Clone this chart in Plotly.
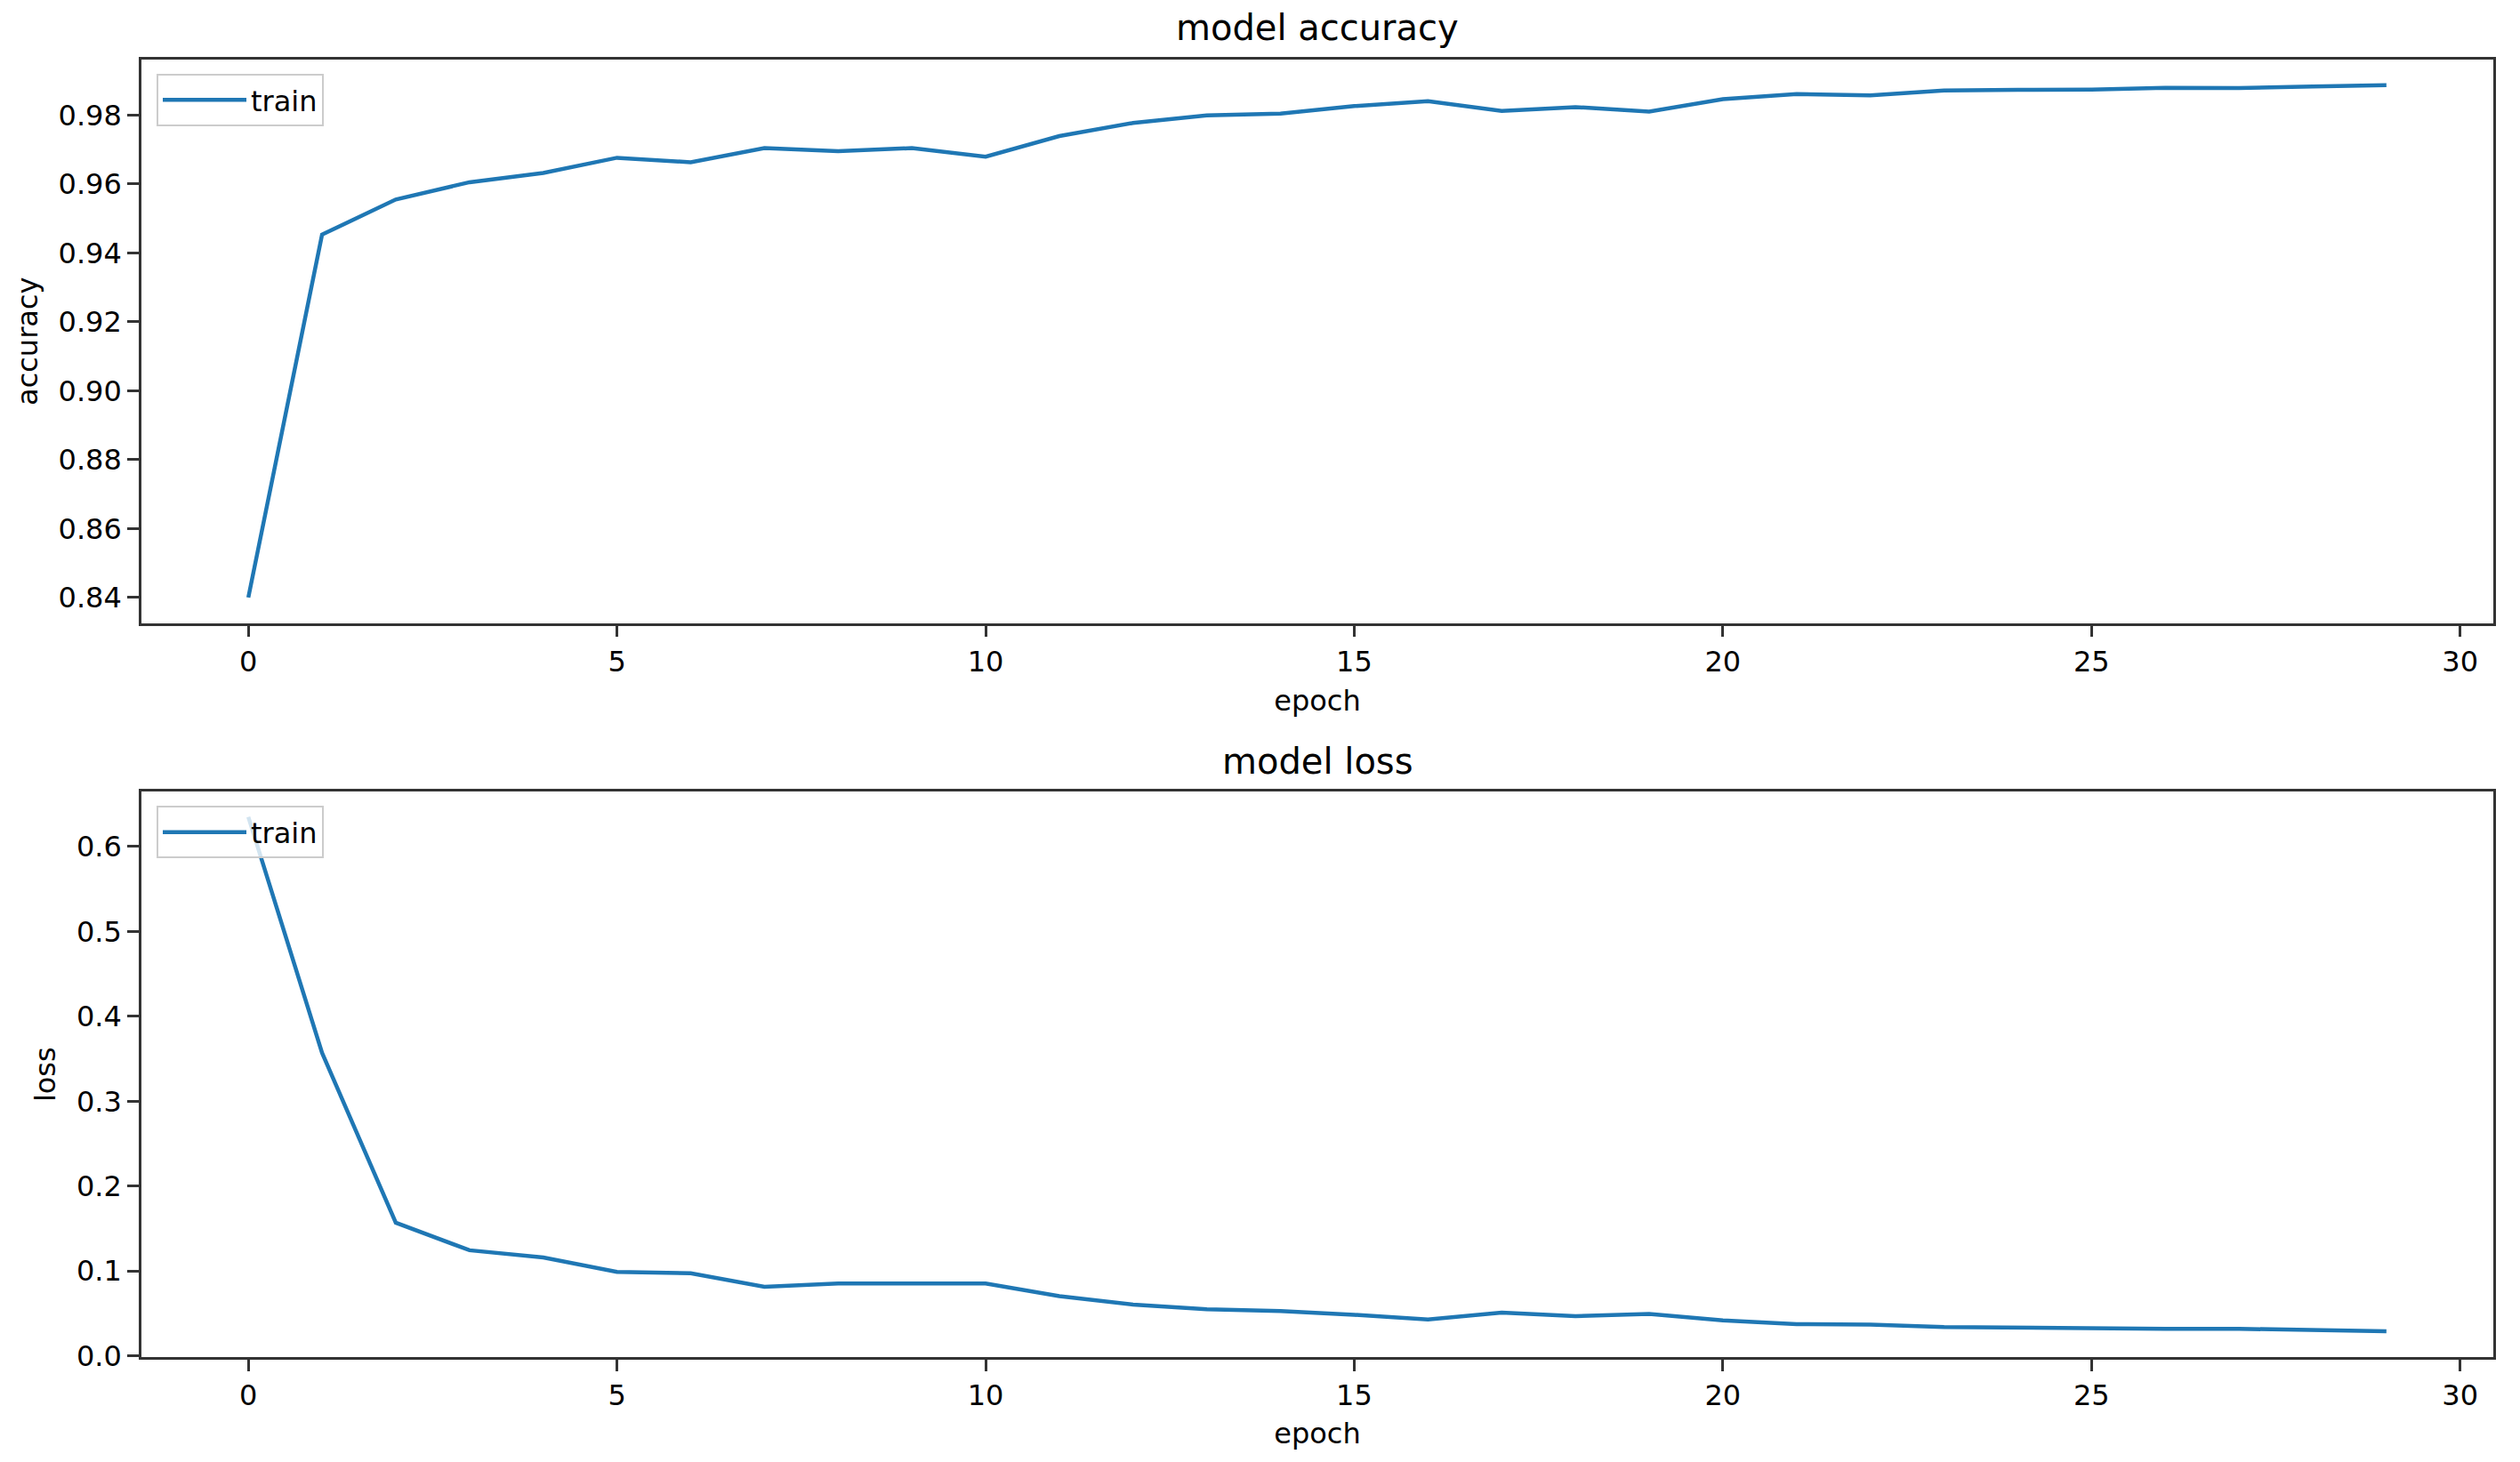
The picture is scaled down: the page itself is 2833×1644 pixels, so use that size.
import plotly.graph_objects as go

epochs = list(range(30))
accuracy = [0.8400, 0.9453, 0.9555, 0.9605, 0.9632, 0.9676, 0.9663, 0.9704, 0.9695, 0.9704,
            0.9679, 0.9739, 0.9777, 0.9799, 0.9804, 0.9826, 0.9840, 0.9812, 0.9823, 0.9810,
            0.9846, 0.9861, 0.9857, 0.9871, 0.9873, 0.9874, 0.9879, 0.9878, 0.9883, 0.9887]
loss = [0.635, 0.357, 0.157, 0.1245, 0.116, 0.099, 0.0975, 0.0815, 0.0854, 0.0854,
        0.0854, 0.0705, 0.0606, 0.055, 0.053, 0.0485, 0.043, 0.051, 0.0468, 0.0496,
        0.0419, 0.0375, 0.037, 0.034, 0.033, 0.033, 0.032, 0.032, 0.030, 0.029]

x_ticks = [0, 5, 10, 15, 20, 25, 30]
acc_ticks = [0.84, 0.86, 0.88, 0.90, 0.92, 0.94, 0.96, 0.98]
loss_ticks = [0.0, 0.1, 0.2, 0.3, 0.4, 0.5, 0.6]

W, H = 2833, 1644
VS = 0.9897  # observed vertical scale of the captured page
BLUE = "#1f77b4"
FONT = "DejaVu Sans"
TXT = "#000000"
SPINE = "#333333"

def px_x(v):
    return v / W

def px_y(v):
    return 1 - (v / VS) / H

fig = go.Figure()
fig.add_trace(go.Scatter(x=epochs, y=accuracy, mode="lines", name="train",
                         line=dict(color=BLUE, width=4.5), xaxis="x", yaxis="y",
                         legend="legend", showlegend=True))
fig.add_trace(go.Scatter(x=epochs, y=loss, mode="lines", name="train",
                         line=dict(color=BLUE, width=4.5), xaxis="x2", yaxis="y2",
                         legend="legend2", showlegend=True))

x_dom = [px_x(159), px_x(2803)]
axis_common = dict(showline=True, linewidth=2.6, linecolor=SPINE, mirror=True,
                   ticks="outside", ticklen=13, tickwidth=2.6, tickcolor=SPINE,
                   showgrid=False, zeroline=False,
                   tickfont=dict(family=FONT, size=32, color=TXT))
xr = [-1.45, 30.45]
title_font = dict(family=FONT, size=32, color=TXT)
legend_common = dict(xanchor="left", yanchor="top", bgcolor="rgba(255,255,255,0.8)",
                     bordercolor="#cccccc", borderwidth=2, itemwidth=94,
                     font=dict(family=FONT, size=32, color=TXT))

fig.update_layout(
    width=W, height=H,
    margin=dict(l=0, r=0, t=0, b=0),
    showlegend=True,
    paper_bgcolor="white", plot_bgcolor="white",
    font=dict(family=FONT, size=32, color=TXT),
    xaxis=dict(domain=x_dom, range=xr, tickvals=x_ticks, anchor="y",
               title=dict(text="epoch", font=title_font, standoff=15), **axis_common),
    yaxis=dict(domain=[px_y(701), px_y(67)], range=[0.8326, 0.9961], tickvals=acc_ticks,
               tickformat=".2f", anchor="x",
               title=dict(text="accuracy", font=title_font, standoff=14), **axis_common),
    xaxis2=dict(domain=x_dom, range=xr, tickvals=x_ticks, anchor="y2",
                title=dict(text="epoch", font=title_font, standoff=14), **axis_common),
    yaxis2=dict(domain=[px_y(1527), px_y(891)], range=[-0.0013, 0.6645], tickvals=loss_ticks,
                tickformat=".1f", anchor="x2",
                title=dict(text="loss", font=title_font, standoff=14), **axis_common),
    legend=dict(x=px_x(176), y=px_y(83), **legend_common),
    legend2=dict(x=px_x(176), y=px_y(907), **legend_common),
    annotations=[
        dict(text="model accuracy", x=(x_dom[0] + x_dom[1]) / 2, y=px_y(31), xref="paper", yref="paper",
             xanchor="center", yanchor="middle", showarrow=False,
             font=dict(family=FONT, size=40, color=TXT)),
        dict(text="model loss", x=(x_dom[0] + x_dom[1]) / 2, y=px_y(857), xref="paper", yref="paper",
             xanchor="center", yanchor="middle", showarrow=False,
             font=dict(family=FONT, size=40, color=TXT)),
    ],
)

fig.write_html("out.html", config={"displayModeBar": False},
               post_script="document.body.style.margin='0';document.body.style.overflow='hidden';")
